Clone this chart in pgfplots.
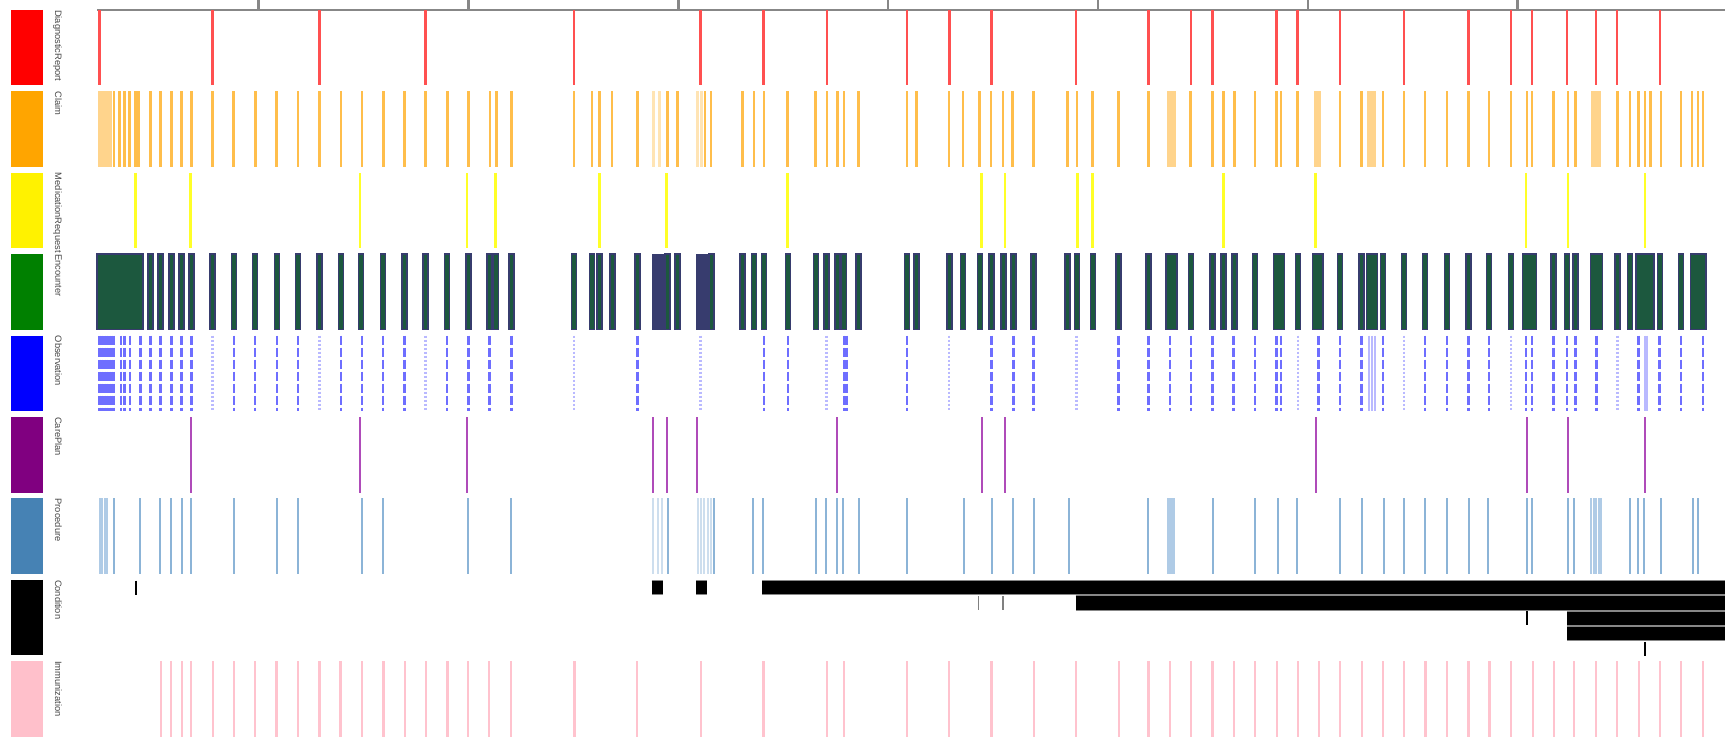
\documentclass[border=0pt]{standalone}
\usepackage{fontspec}
\setmainfont{Liberation Sans}
\usepackage{pgfplots}
\usepackage{pgfplotstable}
\pgfplotsset{compat=1.18}

\definecolor{drRed}{RGB}{255,80,80}
\definecolor{clOrange}{RGB}{255,190,75}
\definecolor{clBlock}{RGB}{255,212,140}
\definecolor{clLight}{RGB}{255,228,180}
\definecolor{mrYellow}{RGB}{255,255,40}
\definecolor{encOut}{RGB}{55,60,110}
\definecolor{encIn}{RGB}{28,88,62}
\definecolor{obBlue}{RGB}{110,110,255}
\definecolor{obLight}{RGB}{185,185,255}
\definecolor{cpPurple}{RGB}{175,75,185}
\definecolor{prBlue}{RGB}{140,180,215}
\definecolor{prBlock}{RGB}{175,203,230}
\definecolor{prLight}{RGB}{205,222,238}
\definecolor{imPink}{RGB}{255,195,206}
\definecolor{axGray}{RGB}{135,135,135}
\definecolor{lblGray}{RGB}{70,70,70}
\definecolor{keyGreen}{RGB}{0,128,0}
\definecolor{keyPurple}{RGB}{128,0,128}
\definecolor{keySteel}{RGB}{70,130,180}
\definecolor{keyPink}{RGB}{255,192,203}
\definecolor{keyOrange}{RGB}{255,165,0}

% event positions (pixels from left), one table per resource type
\pgfplotstableread{
x
99.4
212.7
319.5
425.5
574
700.6
763.4
827
907
949.4
991.5
1076
1148.4
1190.8
1212.3
1276.5
1297.4
1340
1404
1468.3
1510.8
1532
1567
1596
1617
1660
}\tdiag

\pgfplotstableread{
x
114
119.7
124.3
129.3
135.4
138.5
150.7
160.6
171.4
181.7
191.7
212.7
233.7
255.6
276.6
298
319.5
340.9
362
383.4
404.4
425.5
447.3
468.3
489.8
496.3
511.6
574
592
599.6
612.2
637.5
667.7
677.7
705.2
711
742.7
753.8
763.8
787.5
815.5
827
837.3
843.8
858.3
906.9
916.5
949
963.2
979.6
991.1
1003
1012.5
1033.6
1067.7
1076.8
1092.5
1118.6
1148.4
1190.5
1212.3
1223.3
1234.3
1255.2
1276.5
1281
1297.4
1340
1361.6
1383.2
1404
1425
1447
1468.3
1489.2
1510.8
1527
1532
1553.4
1568
1575.4
1617.5
1630
1638.4
1645
1650.5
1660.8
1681
1692
1698
1703
}\tclaim

\pgfplotstableread{
x
99.4
101.5
103.5
105.5
107.5
109.5
111
1168.3
1170.5
1173
1175.2
1315
1317.2
1319.4
1368
1370.3
1372.6
1374.8
1592
1594
1596
1598
1600
}\tclaimblock

\pgfplotstableread{
x
653.6
659.3
697.6
701.4
}\tclaimlight

\pgfplotstableread{
x
135.4
190.5
360
467
495.7
599.6
666.6
787.7
981.3
1005
1077.6
1092.5
1223.3
1315.5
1525.9
1568
1645
}\tmedreq

\pgfplotstableread{
x
99.5
103
106.5
110
113.5
117
120.5
124
127.5
131
134.5
138
140.5
150.7
160.3
171.4
181.7
191.3
212.7
234.1
255.2
277
298
319.5
340.9
361.2
383
404.4
425.5
446.9
468.3
489.4
495.9
511.6
574
592
599.6
612.4
637.3
667.5
677.7
711.5
742.7
753.8
763.8
787.9
816.2
826.6
837.3
843.8
858.7
906.9
916.5
949.4
963.2
980
991.5
1003.7
1013.3
1033.6
1067.7
1077.2
1092.9
1118.6
1148.4
1168.5
1171.5
1174.5
1191.2
1212.3
1223.3
1234.3
1255.2
1276
1279
1282
1297.8
1315
1318
1320.5
1340
1361.6
1369
1372
1375
1383.2
1404
1425
1447
1468.3
1489.2
1510.8
1525
1528
1531
1534
1553.4
1567
1575.4
1593
1596.5
1600
1617.5
1630
1638.4
1641.5
1645
1648.5
1651.5
1660
1681
1693
1696.5
1700
1703.5
}\tenc

\pgfplotstableread{
x
655
660.5
666
699
704.5
710
}\tenclong

\pgfplotstableread{
x
99.5
102
104.5
107
109.5
112
114
121.2
124.3
130
140.4
150.7
160.6
171.4
181.7
191.3
234.1
255.2
277
298
340.9
362
383
404.4
446.9
468.3
489.4
511.6
637.3
763.8
787.9
843.8
846.5
906.9
991.5
1013.3
1033.6
1118.6
1148.4
1170.2
1191.2
1212.3
1233.6
1255.2
1276.5
1281
1318.7
1340
1361.6
1383.2
1425
1447
1468.3
1489.2
1525.9
1532
1553.4
1567
1575.4
1596.3
1638.4
1659.7
1681
1703
}\tobs

\pgfplotstableread{
x
212.7
319.5
425.5
574
700.6
826.6
949
1076.5
1297.8
1404
1510.8
1617.5
}\tobslight

\pgfplotstableread{
x
1369
1372
1375
1645
1647
}\tobssolid

\pgfplotstableread{
x
190.5
360
467
653
666.6
697
837
982
1005
1316
1527
1568
1645
}\tcareplan

\pgfplotstableread{
x
113.5
140
159.5
171.2
181.7
190.7
234.1
276.5
297.7
362.2
382.9
468.1
511
667.6
713.7
753.4
762.9
815.9
826.4
837
843.4
858.7
907
963.5
991.5
1013.1
1033.6
1068.6
1148.4
1212.5
1255
1278.2
1297.1
1339.7
1361.8
1383.9
1403.8
1425.4
1447
1468.5
1487.9
1526.7
1532
1568.2
1574
1630.1
1638.2
1644.2
1661.4
1692.7
1698
}\tproc

\pgfplotstableread{
x
99.7
102
104.5
106.6
1168.3
1170
1172
1173.7
1591.4
1593.5
1596
1598.5
1601
}\tprocblock

\pgfplotstableread{
x
652.8
657.5
662
697.8
701
704
707.5
710.5
}\tproclight

\pgfplotstableread{
x
160.6
171.2
181.7
190.7
213
234.1
255.3
276.5
297.7
319.4
340.5
361.7
383.4
404.6
425.7
447.4
468.1
489.3
511
574.5
637
701
763.4
827
843.9
907
949
991.5
1034
1076.2
1118.7
1148.4
1170
1191
1212.5
1234
1255
1276.6
1297.6
1319.2
1340.2
1361.8
1383.3
1403.8
1425.4
1447
1468.5
1489.5
1511
1532.6
1553.6
1574
1596.2
1617.2
1638.8
1659.8
1681.3
1702.9
}\timmun

\begin{document}
\begin{tikzpicture}[
  lbl/.style={rotate=-90, anchor=north west, inner sep=0pt,
    font=\fontsize{9.3}{10}\selectfont, text=lblGray},
]
\begin{axis}[
  scale only axis, width=1725pt, height=738pt,
  xmin=0, xmax=1725, ymin=0, ymax=738, y dir=reverse,
  hide axis, clip=false,
  ev/.style={only marks, mark=|, mark size=37.75pt, y filter/.expression={#1}},
]
% time axis along the top
\addplot[axGray, line width=2pt] coordinates {(97,10) (1725,10)};
\addplot[only marks, mark=|, mark size=5pt, mark options={axGray, line width=2.5pt}]
  coordinates {(258.6,5) (468.5,5) (678.3,5) (888.2,5) (1098,5) (1307.9,5) (1517.7,5)};

% colour keys
\addplot[red, line width=32pt] coordinates {(27,10) (27,85.5)};
\addplot[keyOrange, line width=32pt] coordinates {(27,91.4) (27,166.9)};
\addplot[yellow, line width=32pt] coordinates {(27,172.8) (27,248.3)};
\addplot[keyGreen, line width=32pt] coordinates {(27,254.2) (27,329.7)};
\addplot[blue, line width=32pt] coordinates {(27,335.6) (27,411.1)};
\addplot[keyPurple, line width=32pt] coordinates {(27,417) (27,492.5)};
\addplot[keySteel, line width=32pt] coordinates {(27,498.4) (27,573.9)};
\addplot[black, line width=32pt] coordinates {(27,579.8) (27,655.3)};
\addplot[keyPink, line width=32pt] coordinates {(27,661.2) (27,736.7)};

\node[lbl] at (axis cs:62,10) {DiagnosticReport};
\node[lbl] at (axis cs:62,91.4) {Claim};
\node[lbl] at (axis cs:62,172.8) {MedicationRequest};
\node[lbl] at (axis cs:62,254.2) {Encounter};
\node[lbl] at (axis cs:62,335.6) {Observation};
\node[lbl] at (axis cs:62,417) {CarePlan};
\node[lbl] at (axis cs:62,498.4) {Procedure};
\node[lbl] at (axis cs:62,579.8) {Condition};
\node[lbl] at (axis cs:62,661.2) {Immunization};

% DiagnosticReport
\addplot[ev=47.75, mark options={drRed, line width=2.5pt}] table[x index=0, y index=0] {\tdiag};
% Claim
\addplot[ev=129.15, mark options={clLight, line width=2.5pt}] table[x index=0, y index=0] {\tclaimlight};
\addplot[ev=129.15, mark options={clBlock, line width=2.5pt}] table[x index=0, y index=0] {\tclaimblock};
\addplot[ev=129.15, mark options={clOrange, line width=2.5pt}] table[x index=0, y index=0] {\tclaim};
% MedicationRequest
\addplot[ev=210.55, mark options={mrYellow, line width=2.5pt}] table[x index=0, y index=0] {\tmedreq};
% Encounter
\addplot[ev=291.95, mark options={encOut, line width=6pt}] table[x index=0, y index=0] {\tenclong};
\addplot[ev=291.95, mark size=38.5pt, mark options={encOut, line width=6.5pt}] table[x index=0, y index=0] {\tenc};
\addplot[ev=291.95, mark size=37pt, mark options={encIn, line width=3.5pt}] table[x index=0, y index=0] {\tenc};
% Observation
\addplot[ev=373.35, mark options={obLight, line width=2.5pt, dash pattern=on 2pt off 2pt}] table[x index=0, y index=0] {\tobslight};
\addplot[ev=373.35, mark options={obLight, line width=2.5pt}] table[x index=0, y index=0] {\tobssolid};
\addplot[ev=373.35, mark options={obBlue, line width=2.5pt, dash pattern=on 9pt off 3pt}] table[x index=0, y index=0] {\tobs};
% CarePlan
\addplot[ev=454.75, mark options={cpPurple, line width=2pt}] table[x index=0, y index=0] {\tcareplan};
% Procedure
\addplot[ev=536.15, mark options={prLight, line width=2pt}] table[x index=0, y index=0] {\tproclight};
\addplot[ev=536.15, mark options={prBlock, line width=2pt}] table[x index=0, y index=0] {\tprocblock};
\addplot[ev=536.15, mark options={prBlue, line width=2pt}] table[x index=0, y index=0] {\tproc};
% Condition: onset to abatement, one lane per condition
\addplot[axGray, line width=15.5pt] coordinates {(651.7,587.7) (663.4,587.7)};
\addplot[black, line width=13.5pt] coordinates {(651.7,587.7) (663.4,587.7)};
\addplot[axGray, line width=15.5pt] coordinates {(696.2,587.7) (706.8,587.7)};
\addplot[black, line width=13.5pt] coordinates {(696.2,587.7) (706.8,587.7)};
\addplot[axGray, line width=15.5pt] coordinates {(762.4,587.7) (1725,587.7)};
\addplot[black, line width=13.5pt] coordinates {(762.4,587.7) (1725,587.7)};
\addplot[axGray, line width=15.5pt] coordinates {(1075.6,603) (1725,603)};
\addplot[black, line width=13.5pt] coordinates {(1075.6,603) (1725,603)};
\addplot[axGray, line width=15.5pt] coordinates {(1567,618.3) (1725,618.3)};
\addplot[black, line width=13.5pt] coordinates {(1567,618.3) (1725,618.3)};
\addplot[axGray, line width=15.5pt] coordinates {(1567,633.6) (1725,633.6)};
\addplot[black, line width=13.5pt] coordinates {(1567,633.6) (1725,633.6)};
\addplot[only marks, mark=|, mark size=7pt, mark options={black, line width=2pt}]
  coordinates {(135.7,587.7) (1526.7,618.3) (1645.3,648.9)};
\addplot[only marks, mark=|, mark size=7pt, mark options={gray, line width=1.5pt}]
  coordinates {(978.6,603) (1002.9,603)};
% Immunization
\addplot[ev=698.95, mark options={imPink, line width=2.2pt}] table[x index=0, y index=0] {\timmun};
\end{axis}
% page = exactly the axis area
\pgfresetboundingbox
\path (current axis.south west) rectangle (current axis.north east);
\end{tikzpicture}
\end{document}
